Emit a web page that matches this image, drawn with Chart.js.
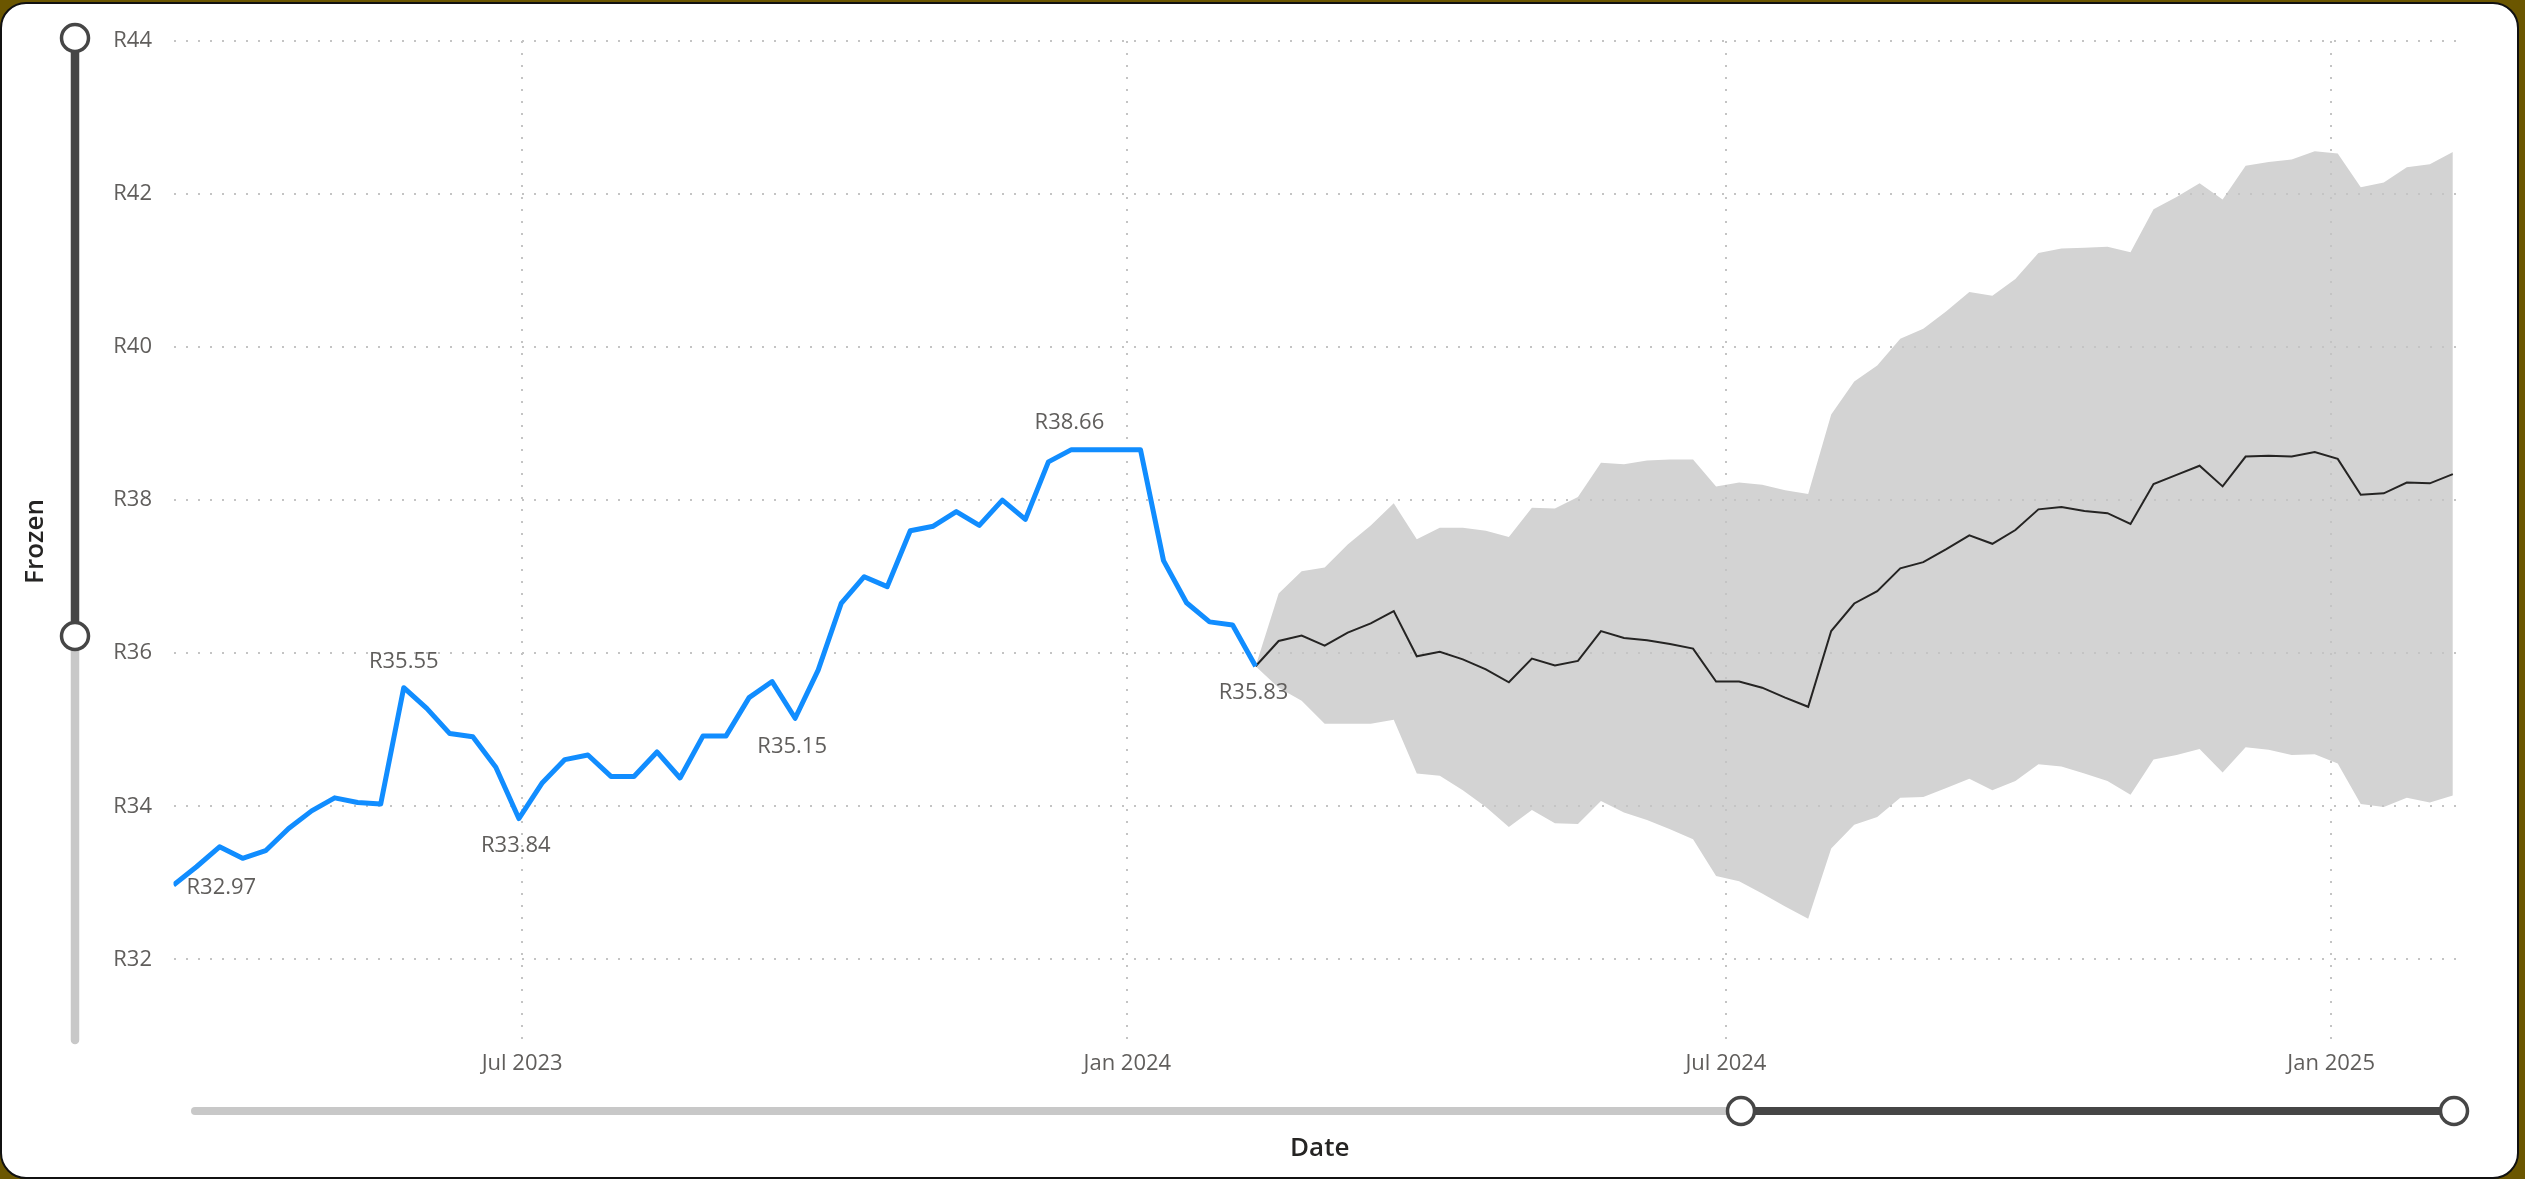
<!DOCTYPE html>
<html>
<head>
<meta charset="utf-8">
<script src="https://cdn.jsdelivr.net/npm/chart.js@4.4.1/dist/chart.umd.min.js"></script>
<style>
html,body{margin:0;padding:0;background:#6B5600;width:2525px;height:1179px;overflow:hidden}
#card{position:absolute;left:0;top:2px;width:2519px;height:1177px;box-sizing:border-box;border:2px solid #111;border-radius:26px;background:#fff}
#wrap{position:absolute;left:0;top:0;width:2525px;height:1179px}
</style>
</head>
<body>
<div id="card"></div>
<div id="wrap"><canvas id="c"></canvas></div>
<script>
// ---------- DATA ----------
const actualDates = [
 '2023-03-17','2023-03-24','2023-03-31','2023-04-07','2023-04-14','2023-04-21','2023-04-28',
 '2023-05-05','2023-05-12','2023-05-19','2023-05-26','2023-06-02','2023-06-09','2023-06-16',
 '2023-06-23','2023-06-30','2023-07-07','2023-07-14','2023-07-21','2023-07-28','2023-08-04',
 '2023-08-11','2023-08-18','2023-08-25','2023-09-01','2023-09-08','2023-09-15','2023-09-22',
 '2023-09-29','2023-10-06','2023-10-13','2023-10-20','2023-10-27','2023-11-03','2023-11-10',
 '2023-11-17','2023-11-24','2023-12-01','2023-12-08','2023-12-15','2023-12-22','2023-12-29',
 '2024-01-05','2024-01-12','2024-01-19','2024-01-26','2024-02-02','2024-02-09'
];
const actualValues = [
 32.97,33.21,33.47,33.32,33.42,33.71,33.94,34.11,34.05,34.03,
 35.55,35.28,34.95,34.91,34.51,33.84,34.30,34.61,34.67,34.39,
 34.39,34.71,34.37,34.92,34.92,35.42,35.63,35.15,35.78,36.65,
 37.00,36.87,37.60,37.66,37.85,37.67,38.00,37.75,38.50,38.66,
 38.66,38.66,38.66,37.21,36.66,36.41,36.37,35.83
];
const forecastDates = [
 '2024-02-09','2024-02-16','2024-02-23','2024-03-01','2024-03-08','2024-03-15','2024-03-22',
 '2024-03-29','2024-04-05','2024-04-12','2024-04-19','2024-04-26','2024-05-03','2024-05-10',
 '2024-05-17','2024-05-24','2024-05-31','2024-06-07','2024-06-14','2024-06-21','2024-06-28',
 '2024-07-05','2024-07-12','2024-07-19','2024-07-26','2024-08-02','2024-08-09','2024-08-16',
 '2024-08-23','2024-08-30','2024-09-06','2024-09-13','2024-09-20','2024-09-27','2024-10-04',
 '2024-10-11','2024-10-18','2024-10-25','2024-11-01','2024-11-08','2024-11-15','2024-11-22',
 '2024-11-29','2024-12-06','2024-12-13','2024-12-20','2024-12-27','2025-01-03','2025-01-10',
 '2025-01-17','2025-01-24','2025-01-31','2025-02-07'
];
const forecastMean = [
 35.83,36.16,36.23,36.10,36.27,36.39,36.55,35.96,36.02,35.92,
 35.79,35.62,35.93,35.84,35.90,36.29,36.20,36.17,36.12,36.06,
 35.63,35.63,35.55,35.42,35.30,36.29,36.65,36.81,37.11,37.19,
 37.36,37.54,37.43,37.61,37.88,37.91,37.86,37.83,37.69,38.21,
 38.33,38.45,38.18,38.57,38.58,38.57,38.63,38.54,38.07,38.09,
 38.23,38.22,38.34
];
const forecastUpper = [
 35.83,36.78,37.07,37.12,37.42,37.67,37.96,37.49,37.64,37.64,
 37.60,37.52,37.90,37.89,38.04,38.49,38.47,38.52,38.53,38.53,
 38.18,38.23,38.20,38.13,38.08,39.12,39.55,39.76,40.11,40.24,
 40.47,40.72,40.67,40.89,41.23,41.29,41.30,41.31,41.24,41.80,
 41.96,42.14,41.93,42.37,42.42,42.45,42.56,42.53,42.09,42.15,
 42.35,42.39,42.55
];
const forecastLower = [
 35.83,35.55,35.38,35.08,35.08,35.08,35.13,34.43,34.40,34.21,
 33.99,33.73,33.95,33.78,33.77,34.07,33.92,33.82,33.70,33.57,
 33.09,33.02,32.86,32.69,32.53,33.45,33.76,33.86,34.11,34.12,
 34.24,34.36,34.21,34.33,34.55,34.52,34.43,34.33,34.15,34.61,
 34.67,34.75,34.44,34.77,34.74,34.67,34.68,34.56,34.03,33.99,
 34.11,34.05,34.14
];
const xTickDates  = ['2023-07-01','2024-01-01','2024-07-01','2025-01-01'];
const xTickLabels = ['Jul 2023','Jan 2024','Jul 2024','Jan 2025'];
const yTicks = [32,34,36,38,40,42,44];
const labelledIdx = [0,10,15,27,39,47];
const xAxisTitle = 'Date';
const yAxisTitle = 'Frozen';

// ---------- HELPERS ----------
const ts = d => Date.parse(d + 'T00:00:00Z');
const pts = (dates, vals) => dates.map((d, i) => ({x: ts(d), y: vals[i]}));
const FONT = "'Open Sans', 'Noto Sans', sans-serif";
const GRAY_TXT = '#605E5C';

// label placement (style only)
const labelStyle = {
  0:  {dx: 13, dy: 3,   align: 'left'},
  10: {dx: 0,  dy: -26, align: 'center'},
  15: {dx: -3, dy: 27,  align: 'center'},
  27: {dx: -3, dy: 28,  align: 'center'},
  39: {dx: -2, dy: -27, align: 'center'},
  47: {dx: -2, dy: 26,  align: 'center'}
};

const dataLabels = {
  id: 'dataLabels',
  afterDatasetsDraw(chart) {
    const meta = chart.getDatasetMeta(0);
    const ctx = chart.ctx;
    ctx.save();
    ctx.font = '22px ' + FONT;
    ctx.fillStyle = GRAY_TXT;
    ctx.textBaseline = 'middle';
    labelledIdx.forEach(i => {
      const el = meta.data[i];
      const st = labelStyle[i];
      ctx.textAlign = st.align;
      ctx.fillText('R' + actualValues[i].toFixed(2), el.x + st.dx, el.y + st.dy);
    });
    ctx.restore();
  }
};

const sliders = {
  id: 'sliders',
  afterDraw(chart) {
    const ctx = chart.ctx;
    const a = chart.chartArea;
    const dark = '#464646', light = '#C8C8C8';
    ctx.save();
    ctx.lineCap = 'round';
    // vertical slider
    const vx = 75, vTop = 38, vMid = 636, vBot = 1040;
    ctx.lineWidth = 8.5;
    ctx.strokeStyle = light;
    ctx.beginPath(); ctx.moveTo(vx, vMid); ctx.lineTo(vx, vBot); ctx.stroke();
    ctx.strokeStyle = dark;
    ctx.beginPath(); ctx.moveTo(vx, vTop); ctx.lineTo(vx, vMid); ctx.stroke();
    // horizontal slider
    const hy = 1111, hL = 195, hMid = 1741, hR = 2454;
    ctx.lineWidth = 8;
    ctx.strokeStyle = light;
    ctx.beginPath(); ctx.moveTo(hL, hy); ctx.lineTo(hMid, hy); ctx.stroke();
    ctx.strokeStyle = dark;
    ctx.beginPath(); ctx.moveTo(hMid, hy); ctx.lineTo(hR, hy); ctx.stroke();
    // handles
    const handle = (x, y) => {
      ctx.beginPath(); ctx.arc(x, y, 13.5, 0, Math.PI * 2);
      ctx.fillStyle = '#fff'; ctx.fill();
      ctx.lineWidth = 3.5; ctx.strokeStyle = dark; ctx.stroke();
    };
    handle(vx, vTop); handle(vx, vMid); handle(hMid, hy); handle(hR, hy);
    ctx.restore();
  }
};

const gridCommon = {color: '#C4C4C4', lineWidth: 2, drawTicks: false};

new Chart(document.getElementById('c'), {
  type: 'line',
  data: {
    datasets: [
      {label: 'Actual', data: pts(actualDates, actualValues), borderColor: '#118DFF', borderWidth: 5,
       pointRadius: 0, tension: 0, borderJoinStyle: 'round', fill: false, order: 0},
      {label: 'Forecast', data: pts(forecastDates, forecastMean), borderColor: '#252423', borderWidth: 2,
       pointRadius: 0, tension: 0, fill: false, order: 1},
      {label: 'Upper', data: pts(forecastDates, forecastUpper), borderWidth: 0, borderColor: 'rgba(0,0,0,0)',
       backgroundColor: '#D3D3D3', pointRadius: 0, tension: 0, fill: '+1', order: 3},
      {label: 'Lower', data: pts(forecastDates, forecastLower), borderWidth: 0, borderColor: 'rgba(0,0,0,0)',
       backgroundColor: '#D3D3D3', pointRadius: 0, tension: 0, fill: false, order: 4}
    ]
  },
  options: {
    responsive: true,
    maintainAspectRatio: false,
    devicePixelRatio: 1,
    animation: false,
    events: [],
    layout: {padding: {left: 0, right: 59, top: 41, bottom: 0}},
    plugins: {
      legend: {display: false},
      tooltip: {enabled: false},
      filler: {drawTime: 'beforeDraw'}
    },
    scales: {
      x: {
        type: 'linear',
        min: ts('2023-03-17'),
        max: ts('2025-02-11'),
        afterBuildTicks: s => { s.ticks = xTickDates.map(d => ({value: ts(d)})); },
        afterFit: s => { s.height = 137; },
        ticks: {
          callback: (v, i) => xTickLabels[i],
          color: GRAY_TXT, font: {family: FONT, size: 22}, padding: 9,
          maxRotation: 0, autoSkip: false
        },
        grid: gridCommon,
        border: {display: false, dash: [2, 10]},
        title: {display: true, text: xAxisTitle, color: '#252423',
                font: {family: FONT, size: 26, weight: '600'}, padding: {top: 0, bottom: 15}}
      },
      y: {
        min: 30.92,
        max: 44,
        afterBuildTicks: s => { s.ticks = yTicks.map(v => ({value: v})); },
        afterFit: s => { s.width = 173.5; },
        ticks: {
          callback: v => 'R' + v,
          color: GRAY_TXT, font: {family: FONT, size: 22}, padding: 21.5
        },
        grid: gridCommon,
        border: {display: false, dash: [2, 10]},
        title: {display: true, text: yAxisTitle, color: '#252423',
                font: {family: FONT, size: 26, weight: '600'}, padding: {top: 20, bottom: 0}}
      }
    }
  },
  plugins: [dataLabels, sliders]
});
</script>
</body>
</html>
